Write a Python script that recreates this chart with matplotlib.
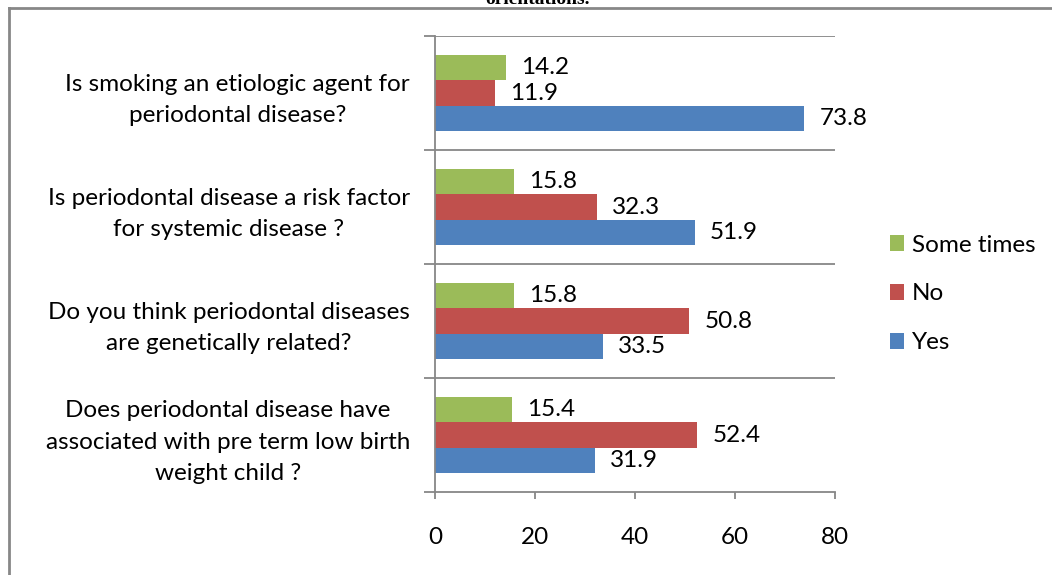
import numpy as np
import matplotlib.pyplot as plt
from matplotlib.lines import Line2D

# Data (bottom category first)
questions = [
    "Does periodontal disease have\nassociated with pre term low birth\nweight child ?",
    "Do you think periodontal diseases\nare genetically related?",
    "Is periodontal disease a risk factor\nfor systemic disease ?",
    "Is smoking an etiologic agent for\nperiodontal disease?",
]
yes = [31.9, 33.5, 51.9, 73.8]
no = [52.4, 50.8, 32.3, 11.9]
some_times = [15.4, 15.8, 15.8, 14.2]

series_names = ["Yes", "No", "Some times"]
colors = ["#4F81BD", "#C0504D", "#9BBB59"]
x_ticks = [0, 20, 40, 60, 80]

plt.rcParams['font.family'] = ['Lato', 'DejaVu Sans']
fs = 17.5
W, H = 1052, 575
fig = plt.figure(figsize=(W / 100, H / 100), dpi=100)
ax = fig.add_axes([435 / W, 1 - 492 / H, 400 / W, 456 / H])

grey = "#878787"
y = np.arange(len(questions))
bar_h = 0.22
for i, (vals, name, col) in enumerate(zip([yes, no, some_times], series_names, colors)):
    pos = y + (i - 1) * bar_h
    ax.barh(pos, vals, height=bar_h, color=col, label=name)
    for p, v in zip(pos, vals):
        ax.annotate(f"{v:.1f}", (v, p), xytext=(11, 0), textcoords='offset points',
                    ha='left', va='center', fontsize=fs)

ax.set_xlim(0, 80)
ax.set_ylim(-0.5, len(questions) - 0.5)
ax.set_xticks(x_ticks)
ax.tick_params(axis='x', direction='out', length=5, color=grey, width=1.3,
               labelsize=fs, pad=20)

bounds = np.arange(len(questions) + 1) - 0.5
ax.set_yticks(bounds)
ax.set_yticklabels([""] * len(bounds))
ax.tick_params(axis='y', which='major', direction='out', length=8, color=grey, width=1.3)
ax.set_yticks(y, minor=True)
ax.set_yticklabels(questions, minor=True, fontsize=fs, multialignment='center',
                   linespacing=1.6)
ax.tick_params(axis='y', which='minor', length=0, pad=18)

for b in bounds[1:]:
    ax.axhline(b, color=grey, lw=1.3, zorder=0)

for s in ['top', 'right']:
    ax.spines[s].set_visible(False)
for s in ['left', 'bottom']:
    ax.spines[s].set_color(grey)
    ax.spines[s].set_linewidth(1.3)

handles, labels = ax.get_legend_handles_labels()
fig.legend(handles[::-1], labels[::-1], loc='center left',
           bbox_to_anchor=(868 / W, 1 - 294 / H), frameon=False, fontsize=fs,
           handlelength=0.6, handleheight=0.6, handletextpad=0.3, labelspacing=1.15)

# outer chart frame (only left and top edges visible)
fig.add_artist(Line2D([9 / W, 9 / W], [0, 1 - 8 / H], color=grey, lw=2, transform=fig.transFigure))
fig.add_artist(Line2D([9 / W, 1], [1 - 8 / H, 1 - 8 / H], color=grey, lw=2, transform=fig.transFigure))

# caption cut off at the top of the image
fig.text(537 / W, 1 - 4 / H, "orientations.", ha='center', va='baseline',
         fontsize=14, fontweight='bold', family='Liberation Serif')

fig.savefig("out.png", dpi=100)
